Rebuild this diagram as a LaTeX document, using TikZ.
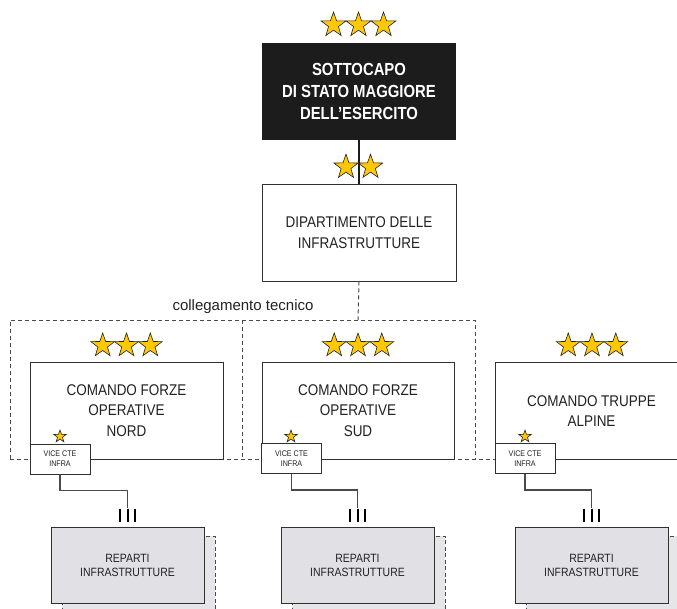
\documentclass[tikz,border=0pt]{standalone}
\usepackage{fontspec}
\setmainfont{Liberation Sans}
\newfontfamily\condfont[FakeStretch=0.87]{Liberation Sans}
\newfontfamily\condbold[FakeStretch=0.85]{Liberation Sans Bold}
\usetikzlibrary{calc}

\definecolor{inkgray}{HTML}{222222}
\definecolor{framegray}{HTML}{303030}
\definecolor{dashgray}{HTML}{4A4A4A}
\definecolor{wiregray}{HTML}{4A4A4A}
\definecolor{unitfill}{HTML}{E1E1E5}
\definecolor{shadefill}{HTML}{E6E6E9}
\definecolor{headfill}{HTML}{1C1C1C}
\definecolor{stargold}{HTML}{FFC800}

\tikzset{
  x=1pt, y=-1pt,
  box/.style={draw=framegray, line width=0.9pt, fill=white, inner sep=0pt,
    align=center, text=inkgray, font=\condfont\fontsize{15.5}{20.5}\selectfont},
  headbox/.style={fill=headfill, inner sep=0pt, align=center, text=white,
    minimum width=194pt, minimum height=97pt,
    font=\condbold\fontsize{17.5}{21.7}\selectfont},
  cmdbox/.style={box, minimum width=193pt, minimum height=97pt},
  vicebox/.style={box, minimum width=60pt, minimum height=30pt,
    font=\condfont\fontsize{8.2}{10}\selectfont},
  unitbox/.style={box, fill=unitfill, minimum width=153pt, minimum height=76pt,
    font=\condfont\fontsize{12}{14}\selectfont},
  ghostbox/.style={draw=dashgray, dash pattern=on 4pt off 2.5pt,
    line width=1pt, fill=shadefill},
  link/.style={draw=dashgray, line width=1pt, dash pattern=on 4pt off 3pt},
  wire/.style={draw=wiregray, line width=1.1pt},
  rankline/.style={draw=headfill, line width=1.4pt},
  sizebar/.style={draw=black, line width=2pt},
  starpaint/.style={fill=stargold, draw=inkgray, line width=0.6pt, line join=miter},
}

% five-pointed star centred on (#1,#2) with outer radius #3
\newcommand\starat[3]{%
  \filldraw[starpaint] (#1,#2) +(-90:#3)
    \foreach \k in {1,...,9}{ -- +({-90+36*\k}:{ifthenelse(isodd(\k),0.4,1)*#3}) }
    -- cycle;}

\begin{document}
\begin{tikzpicture}
\useasboundingbox (0,0) rectangle (677,608);

% ---- head and department ----
\node[headbox] (sm) at (359,91.5) {SOTTOCAPO\\DI STATO MAGGIORE\\DELL’ESERCITO};
\node[box, minimum width=194pt, minimum height=97pt] (dip) at (359,232.5)
  {DIPARTIMENTO DELLE\\INFRASTRUTTURE};
\draw[rankline] (sm.south) -- (dip.north);

% ---- technical link frame ----
\coordinate (hub) at (358,320);
\coordinate (fTL) at (10,320);
\coordinate (fTR) at (475,320);
\coordinate (fBL) at (10,459);
\coordinate (fBR) at (475,459);
\coordinate (fMT) at (242,320);
\coordinate (fMB) at (242,459);
\coordinate (fEnd) at (495,459);
\draw[link] (dip.south) -- (hub);
\draw[link] (fBL) -- (fTL) -- (fTR) -- (fBR);
\draw[link] (fMT) -- (fMB);
\draw[link] (fBL) -- (fEnd);
\node[anchor=base, inner sep=0pt, text=inkgray,
  font=\fontsize{15}{18}\selectfont] (lnk) at (243,310) {collegamento tecnico};

% ---- commands ----
\node[cmdbox] (cfon) at (126.5,410.5) {COMANDO FORZE\\OPERATIVE\\NORD};
\node[cmdbox, minimum width=192pt] (cfos) at (358,410.5) {COMANDO FORZE\\OPERATIVE\\SUD};
\node[cmdbox] (cta) at (591.5,411) {COMANDO TRUPPE\\ALPINE};

\node[vicebox] (vn) at (60,459) {VICE CTE\\INFRA};
\node[vicebox] (vs) at (291.5,458.5) {VICE CTE\\INFRA};
\node[vicebox] (va) at (525,458.5) {VICE CTE\\INFRA};

% ---- infrastructure units with their dashed second copies ----
\coordinate (rnc) at (127.5,565);
\coordinate (rsc) at (357.5,565);
\coordinate (rac) at (591.5,565);
\foreach \c in {rnc,rsc,rac}{
  \draw[ghostbox] ($(\c)+(-65.5,-29)$) rectangle ($(\c)+(87.5,48)$);
}
\node[unitbox] (rn) at (rnc) {REPARTI\\INFRASTRUTTURE};
\node[unitbox] (rs) at (rsc) {REPARTI\\INFRASTRUTTURE};
\node[unitbox] (ra) at (rac) {REPARTI\\INFRASTRUTTURE};

% ---- vice commander links and unit size marks ----
\foreach \v/\r in {vn/rn, vs/rs, va/ra}{
  \coordinate (\r top) at ($(\r.north)+(0,-19)$);
  \draw[wire] (\v.south) -- ++(0,16) -| (\r top);
  \foreach \dx in {-7.5,0,7.5}{
    \draw[sizebar] ($(\r.north)+(\dx,-18)$) -- ($(\r.north)+(\dx,-5)$);
  }
}

% ---- rank stars ----
\starat{333.5}{25}{13}\starat{358.5}{25}{13}\starat{383.5}{25}{13}
\starat{346}{167}{12.8}\starat{370.5}{167}{12.8}
\foreach \cx in {126.5,358,592}{
  \starat{\cx-23.8}{345.5}{12.5}\starat{\cx}{345.5}{12.5}\starat{\cx+23.8}{345.5}{12.5}
}
\starat{60}{436.5}{6.5}
\starat{291}{436.5}{6.5}
\starat{525}{436.5}{6.5}
\end{tikzpicture}
\end{document}
